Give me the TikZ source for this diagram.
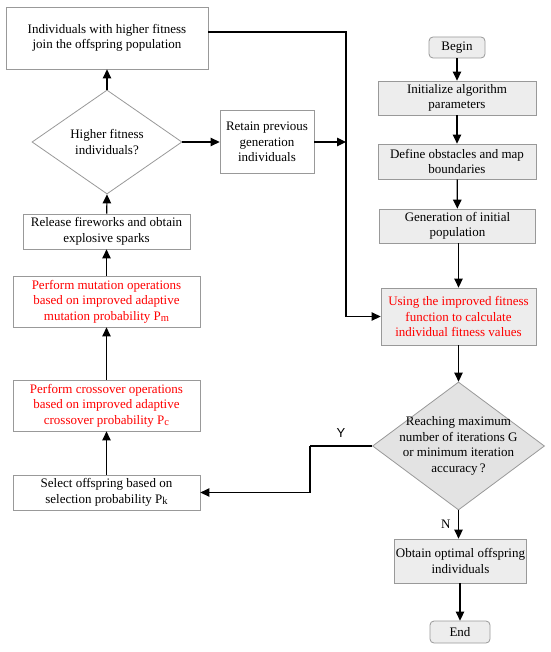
\documentclass[tikz,border=0pt]{standalone}
\usepackage{fontspec}
\setmainfont{Liberation Serif}
\setsansfont{Liberation Sans}
\usepackage{xcolor}
\usetikzlibrary{arrows.meta}
\usetikzlibrary{positioning,shapes.geometric}
\colorlet{edgegray}{black!40}
\colorlet{boxgray}{black!7}
\colorlet{redtext}{red}
\newcommand{\Sub}[1]{\raisebox{-0.25ex}{\fontsize{10.5}{10.5}\selectfont #1}}

\begin{document}
\begin{tikzpicture}[
x=1pt,y=-1pt,
font=\fontsize{13}{15.5}\selectfont,
MyBox/.style={draw=edgegray,fill=white,line width=0.8pt,align=center,inner sep=0pt},
GrayBox/.style={MyBox,fill=boxgray},
RedBox/.style={MyBox,text=redtext},
MyTerminal/.style={GrayBox,rounded corners=4pt},
MyDiamond/.style={diamond,draw=edgegray,line width=0.8pt,inner sep=0pt},
MyText/.style={align=center,inner sep=0pt},
MyArrow/.style={-{Triangle[length=9pt,width=8.5pt]},line width=1.2pt},
MyLine/.style={line width=1.2pt}
]
\useasboundingbox (0,0) rectangle (550,652);

% left column
\node[MyBox,minimum width=202,minimum height=62] (Join) at (107,38)
  {Individuals with higher fitness\\join the offspring population};
\node[MyDiamond,fill=white,minimum width=150,minimum height=104] (HighFit) at (107,142) {};
\node[MyText] (HighFitText) at (HighFit.center) {Higher fitness\\individuals?};
\node[MyBox,minimum width=94,minimum height=63] (Retain) at (267,142)
  {Retain previous\\generation\\individuals};
\node[MyBox,minimum width=167,minimum height=35] (Release) at (106.5,231.5)
  {Release fireworks and obtain\\explosive sparks};
\node[RedBox,minimum width=187,minimum height=51] (Mutation) at (106.5,301.5)
  {Perform mutation operations\\based on improved adaptive\\mutation probability P\Sub{m}};
\node[RedBox,minimum width=187,minimum height=51] (Crossover) at (106.5,405.5)
  {Perform crossover operations\\based on improved adaptive\\crossover probability P\Sub{c}};
\node[MyBox,minimum width=187,minimum height=35] (Select) at (106.5,492.5)
  {Select offspring based on\\selection probability P\Sub{k}};

% right column
\node[MyTerminal,minimum width=56,minimum height=21] (Begin) at (457,47.5) {Begin};
\node[GrayBox,minimum width=158,minimum height=34] (Init) at (457,98)
  {Initialize algorithm\\parameters};
\node[GrayBox,minimum width=158,minimum height=35] (Define) at (457,161.5)
  {Define obstacles and map\\boundaries};
\node[GrayBox,minimum width=156,minimum height=34] (Gen) at (457.5,226)
  {Generation of initial\\population};
\node[GrayBox,text=redtext,minimum width=155,minimum height=57] (Using) at (458.5,316.5)
  {Using the improved fitness\\function to calculate\\individual fitness values};
\node[MyDiamond,fill=black!11,minimum width=172,minimum height=128] (Reach) at (458.5,446) {};
\node[MyText] (ReachText) at (Reach.center)
  {Reaching maximum\\number of iterations G\\or minimum iteration\\accuracy\,?};
\node[GrayBox,minimum width=132,minimum height=44] (Obtain) at (460.5,561)
  {Obtain optimal offspring\\individuals};
\node[MyTerminal,minimum width=60,minimum height=22] (End) at (460,632) {End};

\coordinate (Bend) at (346,32);
\coordinate (Turn) at (310,446);

% main flow
\draw[MyArrow] (Begin) -- (Init);
\draw[MyArrow] (Init) -- (Define);
\draw[MyArrow] (Define) -- (Gen);
\draw[MyArrow] (Gen.south -| Using.north) -- (Using.north);
\draw[MyArrow] (Using.south) -- (Reach.north);
\draw[MyArrow] (Reach.south) -- (Reach.south |- Obtain.north) node[midway,left=4pt] (NLabel) {N};
\draw[MyArrow] (Obtain.south -| End.north) -- (End.north);

% loop back
\draw[MyLine] (Reach.west) -- (Turn) node[pos=0.5,above=5pt,font=\sffamily\fontsize{13}{15}\selectfont] (YLabel) {Y};
\draw[MyArrow] (Turn) |- (Select.east);
\draw[MyArrow] (Select) -- (Crossover);
\draw[MyArrow] (Crossover) -- (Mutation);
\draw[MyArrow] (Mutation) -- (Release);
\draw[MyArrow] (Release) -- (HighFit.south);
\draw[MyArrow] (HighFit.north) -- (Join);
\draw[MyArrow] (HighFit.east) -- (Retain.west);
\draw[MyArrow] (Join.east |- Bend) -- (Bend) |- (Using.west);
\draw[MyArrow] (Retain.east) -- (Retain.east -| Bend);

\end{tikzpicture}
\end{document}
